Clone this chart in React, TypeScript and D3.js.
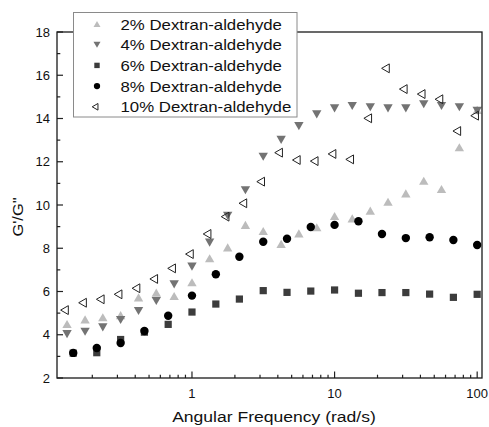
import React from "react";
import * as d3 from "d3";

const freq6 = [0.147, 0.215, 0.316, 0.464, 0.681, 1, 1.47, 2.15, 3.16, 4.64, 6.81, 10, 14.7, 21.5, 31.6, 46.4, 68.1, 100];
const freq8 = [0.133, 0.178, 0.237, 0.316, 0.422, 0.562, 0.75, 1, 1.33, 1.78, 2.37, 3.16, 4.22, 5.62, 7.5, 10, 13.3, 17.8, 23.7, 31.6, 42.2, 56.2, 75, 100];

const dex2 = [4.5, 4.71, 4.81, 4.91, 5.73, 5.95, 5.79, 6.43, 7.54, 8.04, 9.08, 8.8, 8.2, 8.69, 8.97, 9.49, 9.38, 9.74, 10.15, 10.54, 11.12, 10.74, 12.67, 14.4];
const dex4 = [4.03, 4.14, 4.34, 4.68, 5.1, 5.56, 6.33, 7.15, 8.26, 9.5, 10.68, 12.23, 13.01, 13.65, 14.19, 14.47, 14.58, 14.52, 14.47, 14.47, 14.66, 14.58, 14.52, 14.36];
const dex6 = [3.15, 3.17, 3.78, 4.12, 4.48, 5.05, 5.42, 5.65, 6.04, 5.96, 6.02, 6.07, 5.92, 5.95, 5.95, 5.88, 5.73, 5.87];
const dex8 = [3.16, 3.39, 3.62, 4.17, 4.88, 5.81, 6.8, 7.61, 8.3, 8.44, 8.98, 9.08, 9.25, 8.66, 8.47, 8.51, 8.38, 8.15];
const dex10 = [5.14, 5.48, 5.64, 5.87, 6.15, 6.58, 7.07, 7.73, 8.66, 9.46, 10.08, 11.08, 12.42, 12.08, 12.03, 12.36, 12.11, 14.01, 16.32, 15.36, 15.13, 14.89, 13.42, 14.13];

const legendLabels = ["2% Dextran-aldehyde", "4% Dextran-aldehyde", "6% Dextran-aldehyde", "8% Dextran-aldehyde", "10% Dextran-aldehyde"];
const yTickValues = [2, 4, 6, 8, 10, 12, 14, 16, 18];
const xTickValues = [1, 10, 100];
const xTickLabels = ["1", "10", "100"];

type Kind = "up" | "down" | "square" | "circle" | "left";
const series: { freq: number[]; vals: number[]; kind: Kind; fill: string; stroke: string }[] = [
  { freq: freq8, vals: dex2, kind: "up", fill: "#bcbcbc", stroke: "none" },
  { freq: freq8, vals: dex4, kind: "down", fill: "#737373", stroke: "none" },
  { freq: freq6, vals: dex6, kind: "square", fill: "#3c3c3c", stroke: "none" },
  { freq: freq6, vals: dex8, kind: "circle", fill: "#000000", stroke: "none" },
  { freq: freq8, vals: dex10, kind: "left", fill: "none", stroke: "#222" },
];

const L = 57, R = 482, T = 32, B = 378;
const x = d3.scaleLog().domain([0.1131, 108.1]).range([L, R]);
const y = d3.scaleLinear().domain([2, 18]).range([B, T]);

function Marker({ kind, cx, cy, fill, stroke, scale }: { kind: Kind; cx: number; cy: number; fill: string; stroke: string; scale: number }) {
  if (kind === "circle") {
    return <circle cx={cx} cy={cy} r={4.2 * scale} fill={fill} />;
  }
  if (kind === "square") {
    const s = 7.2 * scale;
    return <rect x={cx - s / 2} y={cy - s / 2} width={s} height={s} fill={fill} />;
  }
  const size = (kind === "left" ? 34 : 38) * scale * scale;
  const path = d3.symbol().type(d3.symbolTriangle).size(size)() as string;
  const r = Math.sqrt(size / (3 * Math.sqrt(3)));
  let tr = "";
  if (kind === "up") tr = `translate(${cx},${cy + r / 2})`;
  else if (kind === "down") tr = `translate(${cx},${cy - r / 2}) rotate(180)`;
  else tr = `translate(${cx - r / 2},${cy}) rotate(-90)`;
  return <path d={path} transform={tr} fill={fill} stroke={stroke} strokeWidth={kind === "left" ? 1 : 0} />;
}

export default function App() {
  const font = "'Liberation Sans', Arial, Helvetica, sans-serif";
  const minorX = x.ticks().filter((t) => !xTickValues.includes(t) && t >= 0.1131 && t <= 108.1);
  const minorY = [3, 5, 7, 9, 11, 13, 15, 17];
  return (
    <svg width={489} height={427} style={{ position: "absolute", left: 0, top: 0, background: "#fff" }} fontFamily={font}>
      <rect x={0} y={0} width={489} height={427} fill="#fff" />
      {/* ticks */}
      {yTickValues.map((v) => (
        <line key={"ym" + v} x1={L} x2={L + 6} y1={y(v)} y2={y(v)} stroke="#222" strokeWidth={1.2} />
      ))}
      {minorY.map((v) => (
        <line key={"yn" + v} x1={L} x2={L + 3.3} y1={y(v)} y2={y(v)} stroke="#222" strokeWidth={1.2} />
      ))}
      {xTickValues.map((v) => (
        <line key={"xm" + v} x1={x(v)} x2={x(v)} y1={B} y2={B - 6.5} stroke="#222" strokeWidth={1.2} />
      ))}
      {minorX.map((v, i) => (
        <line key={"xn" + i} x1={x(v)} x2={x(v)} y1={B} y2={B - 3.3} stroke="#222" strokeWidth={1.2} />
      ))}
      {/* tick labels */}
      {yTickValues.map((v) => (
        <text key={"yl" + v} x={50} y={y(v) + 4.6} fontSize={13} textAnchor="end" fill="#111">
          {v}
        </text>
      ))}
      {xTickValues.map((v, i) => (
        <text key={"xl" + v} x={x(v)} y={397.5} fontSize={13} textAnchor="middle" fill="#111">
          {xTickLabels[i]}
        </text>
      ))}
      {/* data */}
      {series.map((s, si) => (
        <g key={"s" + si}>
          {s.vals.map((v, i) => (
            <Marker key={i} kind={s.kind} cx={x(s.freq[i])} cy={y(v)} fill={s.fill} stroke={s.stroke} scale={1} />
          ))}
        </g>
      ))}
      {/* frame */}
      <rect x={L} y={T} width={R - L} height={B - T} fill="none" stroke="#1a1a1a" strokeWidth={1.3} />
      {/* legend */}
      <rect x={73.5} y={12.5} width={223.5} height={104.5} fill="#fff" stroke="#8a8a8a" strokeWidth={1} />
      {series.map((s, i) => (
        <g key={"lg" + i}>
          <Marker kind={s.kind} cx={97} cy={24 + 20.7 * i} fill={s.fill} stroke={s.stroke} scale={0.75} />
          <text transform={`translate(120.5,${29.5 + 20.7 * i}) scale(1.2,1)`} fontSize={14} fill="#111">
            {legendLabels[i]}
          </text>
        </g>
      ))}
      {/* axis titles */}
      <text transform={`translate(274,422) scale(1.17,1)`} fontSize={15} textAnchor="middle" fill="#111">
        Angular Frequency (rad/s)
      </text>
      <text transform={`translate(23,217) rotate(-90) scale(1.1,1)`} fontSize={15} textAnchor="middle" fill="#111">
        G'/G"
      </text>
    </svg>
  );
}
